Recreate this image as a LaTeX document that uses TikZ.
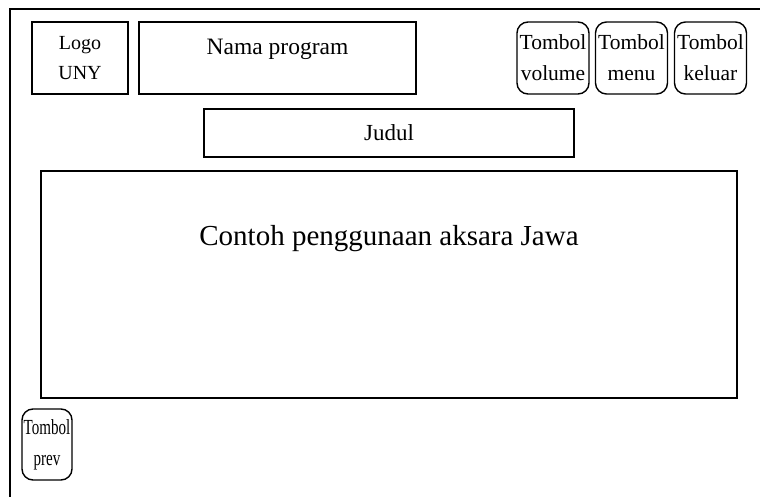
\documentclass[tikz,border=0pt]{standalone}
\usepackage{fontspec}
\setmainfont{Liberation Serif}
\usetikzlibrary{positioning}

\begin{document}
\begin{tikzpicture}[x=1pt,y=-1pt,
  box/.style={draw, line width=1.4pt, rectangle, inner sep=0pt},
  tombol/.style={draw, line width=1.4pt, rounded corners=11pt, inner sep=0pt, align=center,
    minimum width=72pt, minimum height=72pt, font=\fontsize{21.5}{31}\selectfont}]
\useasboundingbox (0,0) rectangle (760,497);

% Frame of the screen
\draw[line width=1.4pt] (10,497) -- (10,9) -- (760,9);

% Header
\node[box, align=center, minimum width=96pt, minimum height=72pt,
  font=\fontsize{20}{30}\selectfont] (logo) at (80,58) {Logo\\UNY};
\node[box, minimum width=277pt, minimum height=72pt] (nama) at (277.5,58) {};
\node[font=\fontsize{23.5}{28}\selectfont, anchor=north] (namatext) at ([yshift=-14pt]nama.north) {Nama program};

% Buttons at the top right
\node[tombol] (volume) at (553,58) {Tombol\\volume};
\node[tombol] (menu) at (631.5,58) {Tombol\\menu};
\node[tombol] (keluar) at (710.5,58) {Tombol\\keluar};

% Title
\node[box, minimum width=370pt, minimum height=48pt,
  font=\fontsize{23}{28}\selectfont] (judul) at (389,133) {Judul};

% Content area
\node[box, minimum width=696pt, minimum height=227pt] (isi) at (389,284.5) {};
\node[font=\fontsize{29}{34}\selectfont, anchor=north] (isitext) at ([yshift=-52pt]isi.north) {Contoh penggunaan aksara Jawa};

% Previous button
\node[tombol, minimum width=50pt, minimum height=71pt] (prev) at (47,444.5)
  {\scalebox{0.7}[1]{Tombol}\\\scalebox{0.7}[1]{prev}};
\end{tikzpicture}
\end{document}
